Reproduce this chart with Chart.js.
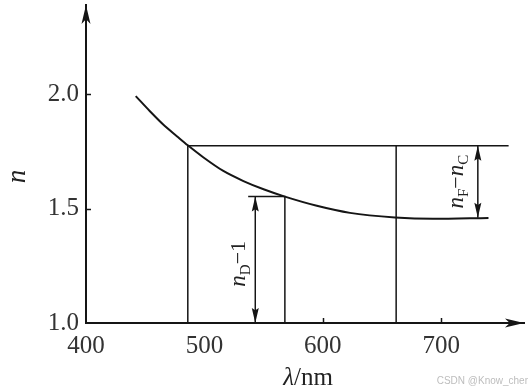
<!DOCTYPE html>
<html>
<head>
<meta charset="utf-8">
<script src="https://cdn.jsdelivr.net/npm/chart.js@4/dist/chart.umd.min.js"></script>
<style>
  html, body { margin: 0; padding: 0; background: #fff; }
  #wrap { width: 532px; height: 391px; }
</style>
</head>
<body>
<div id="wrap"><canvas id="dispersionChart"></canvas></div>
<script>
// dispersion curve n(λ)
const wavelength = [442, 454, 465, 477, 486, 499, 516, 533, 550, 568, 595, 623, 661, 693, 740];
const refractiveIndex = [1.991, 1.925, 1.868, 1.815, 1.776, 1.724, 1.664, 1.620, 1.584, 1.552, 1.512, 1.481, 1.461, 1.455, 1.459];

// Fraunhofer lines F, D, C
const lineLambda = [486, 568, 662];
const lineIndex = [1.774, 1.552, 1.460];

const fLineEnd = 757;     // end of the n_F horizontal
const dLineStart = 537;   // start of the short n_D horizontal
const arrowLambda = [543, 731]; // n_D-1 arrow, n_F-n_C arrow

const xTicks = [400, 500, 600, 700];
const yTicks = [1.0, 1.5, 2.0];
const xTickMarks = [600, 700];
const yTickMarks = [1.5, 2.0];

const INK = '#151515';
const SERIF = '"Liberation Serif", "DejaVu Serif", serif';

const pts = (xs, ys) => xs.map((x, i) => ({ x: x, y: ys[i] }));

const [lamF, lamD, lamC] = lineLambda;
const [nF, nD, nC] = lineIndex;

function arrowHead(ctx, x, y, dx, dy, len, half, notch) {
    const px = -dy, py = dx;
    ctx.beginPath();
    ctx.moveTo(x, y);
    ctx.lineTo(x - dx * len + px * half, y - dy * len + py * half);
    ctx.lineTo(x - dx * len * notch, y - dy * len * notch);
    ctx.lineTo(x - dx * len - px * half, y - dy * len - py * half);
    ctx.closePath();
    ctx.fill();
}

function drawRotated(ctx, x, y, parts) {
    // parts: [text, font, baselineShift]; drawn reading bottom-to-top, centred on y
    ctx.save();
    ctx.translate(x, y);
    ctx.rotate(-Math.PI / 2);
    let total = 0;
    parts.forEach(p => { ctx.font = p[1]; total += ctx.measureText(p[0]).width; });
    let cx = -total / 2;
    ctx.textBaseline = 'alphabetic';
    ctx.textAlign = 'left';
    parts.forEach(p => {
        ctx.font = p[1];
        ctx.fillText(p[0], cx, p[2] || 0);
        cx += ctx.measureText(p[0]).width;
    });
    ctx.restore();
}

const decorPlugin = {
    id: 'decor',
    afterDraw(chart) {
        const ctx = chart.ctx;
        const xs = chart.scales.x, ys = chart.scales.y;
        const a = chart.chartArea;
        ctx.save();
        ctx.fillStyle = INK;
        ctx.strokeStyle = INK;

        // inward tick marks
        ctx.lineWidth = 1.5;
        xTickMarks.forEach(v => {
            const px = Math.round(xs.getPixelForValue(v)) + 0.5;
            ctx.beginPath(); ctx.moveTo(px, a.bottom); ctx.lineTo(px, a.bottom - 5); ctx.stroke();
        });
        yTickMarks.forEach(v => {
            const py = Math.round(ys.getPixelForValue(v)) + 0.5;
            ctx.beginPath(); ctx.moveTo(a.left, py); ctx.lineTo(a.left + 5, py); ctx.stroke();
        });

        // axis arrows
        arrowHead(ctx, a.right, a.bottom, 1, 0, 19, 4.5, 0.75);
        arrowHead(ctx, a.left, a.top, 0, -1, 19, 4.5, 0.75);

        // double-headed arrows
        const ax1 = xs.getPixelForValue(arrowLambda[0]);
        const y1a = ys.getPixelForValue(1.0), y1b = ys.getPixelForValue(nD);
        arrowHead(ctx, ax1, y1b, 0, -1, 15, 3.5, 0.85);
        arrowHead(ctx, ax1, y1a, 0, 1, 15, 3.5, 0.85);
        const ax2 = xs.getPixelForValue(arrowLambda[1]);
        const y2a = ys.getPixelForValue(nF), y2b = ys.getPixelForValue(nC);
        arrowHead(ctx, ax2, y2a, 0, -1, 15, 3.5, 0.85);
        arrowHead(ctx, ax2, y2b, 0, 1, 15, 3.5, 0.85);

        // annotations
        ctx.fillStyle = '#222';
        drawRotated(ctx, ax1 - 10, (y1a + y1b) / 2 + 4, [
            ['n', 'italic 23px ' + SERIF, 0],
            ['D', '15px ' + SERIF, 5],
            ['\u22121', '22px ' + SERIF, 0]
        ]);
        drawRotated(ctx, ax2 - 15, (y2a + y2b) / 2, [
            ['n', 'italic 23px ' + SERIF, 0],
            ['F', '15px ' + SERIF, 5],
            ['\u2212', '22px ' + SERIF, 0],
            ['n', 'italic 23px ' + SERIF, 0],
            ['C', '15px ' + SERIF, 5]
        ]);

        // axis titles
        drawRotated(ctx, 25, ys.getPixelForValue(1.64), [['n', 'italic 27px ' + SERIF, 0]]);
        ctx.font = 'italic 25px ' + SERIF;
        const w1 = ctx.measureText('\u03bb').width;
        ctx.font = '25px ' + SERIF;
        const w2 = ctx.measureText('/nm').width;
        const tx = (a.left + a.right) / 2 + 3 - (w1 + w2) / 2;
        ctx.textBaseline = 'alphabetic';
        ctx.textAlign = 'left';
        ctx.font = 'italic 25px ' + SERIF;
        ctx.fillText('\u03bb', tx, a.bottom + 62);
        ctx.font = '25px ' + SERIF;
        ctx.fillText('/nm', tx + w1, a.bottom + 62);

        // watermark
        ctx.fillStyle = '#bdbdbd';
        ctx.font = '10px "Liberation Sans", Arial, sans-serif';
        ctx.textAlign = 'right';
        ctx.fillText('CSDN @Know_cher', 528, 384);
        ctx.restore();
    }
};

const lineStyle = { borderColor: INK, pointRadius: 0, fill: false, tension: 0 };

new Chart(document.getElementById('dispersionChart'), {
    type: 'line',
    data: {
        datasets: [
            Object.assign({}, lineStyle, {
                label: 'n(λ)',
                data: pts(wavelength, refractiveIndex),
                borderWidth: 2,
                cubicInterpolationMode: 'monotone'
            }),
            Object.assign({}, lineStyle, {
                label: 'F',
                data: pts([lamF, lamF, fLineEnd], [1.0, nF, nF]),
                borderWidth: 1.5
            }),
            Object.assign({}, lineStyle, {
                label: 'D',
                data: pts([dLineStart, lamD, lamD], [nD, nD, 1.0]),
                borderWidth: 1.5
            }),
            Object.assign({}, lineStyle, {
                label: 'C',
                data: pts([lamC, lamC], [1.0, nF]),
                borderWidth: 1.5
            }),
            Object.assign({}, lineStyle, {
                label: 'nD-1',
                data: pts([arrowLambda[0], arrowLambda[0]], [1.0, nD]),
                borderWidth: 1.5
            }),
            Object.assign({}, lineStyle, {
                label: 'nF-nC',
                data: pts([arrowLambda[1], arrowLambda[1]], [nF, nC]),
                borderWidth: 1.5
            })
        ]
    },
    options: {
        responsive: true,
        maintainAspectRatio: false,
        animation: false,
        parsing: false,
        layout: { padding: { left: 0, right: 8, top: 5, bottom: 0 } },
        plugins: {
            legend: { display: false },
            tooltip: { enabled: false }
        },
        scales: {
            x: {
                type: 'linear',
                min: 400,
                max: 770,
                grid: { display: false, drawTicks: false },
                border: { display: true, color: INK, width: 2 },
                afterBuildTicks: s => { s.ticks = xTicks.map(v => ({ value: v })); },
                afterFit: s => { s.height = 68; s.paddingLeft = 0; s.paddingRight = 0; },
                ticks: {
                    padding: 8,
                    color: '#333',
                    maxRotation: 0,
                    font: { family: SERIF, size: 25 }
                }
            },
            y: {
                type: 'linear',
                min: 1.0,
                max: 2.389,
                grid: { display: false, drawTicks: false },
                border: { display: true, color: INK, width: 2 },
                afterBuildTicks: s => { s.ticks = yTicks.map(v => ({ value: v })); },
                afterFit: s => { s.width = 86; s.paddingTop = 0; s.paddingBottom = 0; },
                ticks: {
                    padding: 7,
                    color: '#333',
                    font: { family: SERIF, size: 25 },
                    callback: v => v.toFixed(1)
                }
            }
        }
    },
    plugins: [decorPlugin]
});
</script>
</body>
</html>
